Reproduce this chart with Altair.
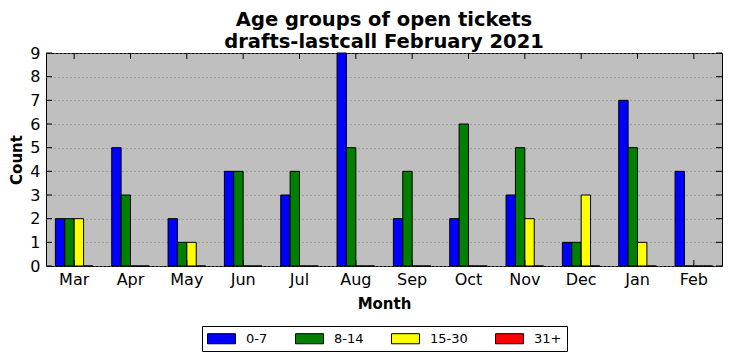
import altair as alt
import pandas as pd

months = ["Mar", "Apr", "May", "Jun", "Jul", "Aug", "Sep", "Oct", "Nov", "Dec", "Jan", "Feb"]
groups = ["0-7", "8-14", "15-30", "31+"]
colors = ["#0000ff", "#008000", "#ffff00", "#ff0000"]
v_0_7 = [2, 5, 2, 4, 3, 9, 2, 2, 3, 1, 7, 4]
v_8_14 = [2, 3, 1, 4, 4, 5, 4, 6, 5, 1, 5, 0]
v_15_30 = [2, 0, 1, 0, 0, 0, 0, 0, 2, 3, 1, 0]
v_31 = [0, 0, 0, 0, 0, 0, 0, 0, 0, 0, 0, 0]
y_ticks = list(range(0, 10))

series = [v_0_7, v_8_14, v_15_30, v_31]
rows = []
for g, vals in zip(groups, series):
    for m, v in zip(months, vals):
        rows.append({"Month": m, "Group": g, "Count": v})
df = pd.DataFrame(rows)
df_m = pd.DataFrame({"Month": months})
df_y = pd.DataFrame({"t": y_ticks})

W, H = 676, 213
FONT = "DejaVu Sans"

xscale = alt.Scale(domain=months, paddingInner=0, paddingOuter=0)
yscale = alt.Scale(domain=[0, 9], nice=False)

xaxis = alt.Axis(title="Month", labelAngle=0, ticks=False, domain=False,
                 labelFontSize=16, labelPadding=5, labelColor="black",
                 titleFontSize=15, titleFontWeight="bold", titlePadding=9,
                 titleColor="black", labelFont=FONT, titleFont=FONT)
yaxis = alt.Axis(title="Count", values=y_ticks, ticks=False, domain=False,
                 grid=True, gridColor="#7f7f7f", gridDash=[1, 3], gridWidth=1,
                 labelOverlap=False, labelFlush=False, labelBound=False,
                 labelFontSize=16, labelPadding=6, labelColor="black",
                 titleFontSize=15, titleFontWeight="bold", titlePadding=5,
                 titleColor="black", labelFont=FONT, titleFont=FONT)

bars = alt.Chart(df).mark_bar(stroke="black", strokeWidth=1).encode(
    x=alt.X("Month:N", sort=months, scale=xscale, axis=xaxis, title="Month"),
    xOffset=alt.XOffset("Group:N", sort=groups,
                        scale=alt.Scale(domain=groups, paddingInner=0, paddingOuter=1)),
    y=alt.Y("Count:Q", scale=yscale, axis=yaxis, title="Count"),
    color=alt.Color("Group:N", sort=groups,
                    scale=alt.Scale(domain=groups, range=colors),
                    legend=alt.Legend(title=None, orient="none", direction="horizontal",
                                      legendX=156, legendY=273,
                                      symbolType="M-2,-0.72H2V0.72H-2Z", symbolSize=196,
                                      symbolOffset=7,
                                      symbolStrokeColor="black", symbolStrokeWidth=1,
                                      labelFontSize=13, labelFont=FONT, labelColor="black",
                                      labelOffset=17, columnPadding=25,
                                      strokeColor="black", padding=5,
                                      fillColor="white")),
)

tick_len = 6
xt_top = alt.Chart(df_m).mark_rule(color="black", strokeWidth=1).encode(
    x=alt.X("Month:N", sort=months, scale=xscale, axis=xaxis, title="Month"),
    y=alt.value(0), y2=alt.value(tick_len))
xt_bot = alt.Chart(df_m).mark_rule(color="black", strokeWidth=1).encode(
    x=alt.X("Month:N", sort=months, scale=xscale, axis=xaxis, title="Month"),
    y=alt.value(H - tick_len), y2=alt.value(H))
yt_left = alt.Chart(df_y).mark_rule(color="black", strokeWidth=1).encode(
    y=alt.Y("t:Q", scale=yscale, axis=yaxis, title="Count"),
    x=alt.value(0), x2=alt.value(tick_len))
yt_right = alt.Chart(df_y).mark_rule(color="black", strokeWidth=1).encode(
    y=alt.Y("t:Q", scale=yscale, axis=yaxis, title="Count"),
    x=alt.value(W - tick_len), x2=alt.value(W))

chart = alt.layer(bars, xt_top, xt_bot, yt_left, yt_right).properties(
    width=W, height=H,
    background="white",
    title=alt.TitleParams(["Age groups of open tickets", "drafts-lastcall February 2021"],
                          fontSize=19.5, fontWeight="bold", font=FONT, color="black",
                          anchor="middle", frame="group", offset=-7, lineHeight=22),
    autosize=alt.AutoSizeParams(type="none"),
    padding={"left": 38, "top": 45, "right": 2, "bottom": 87},
).configure_view(
    fill="#bfbfbf", stroke="black", strokeWidth=1
)

chart.save("out.html", embed_options={"renderer": "svg", "actions": False})
